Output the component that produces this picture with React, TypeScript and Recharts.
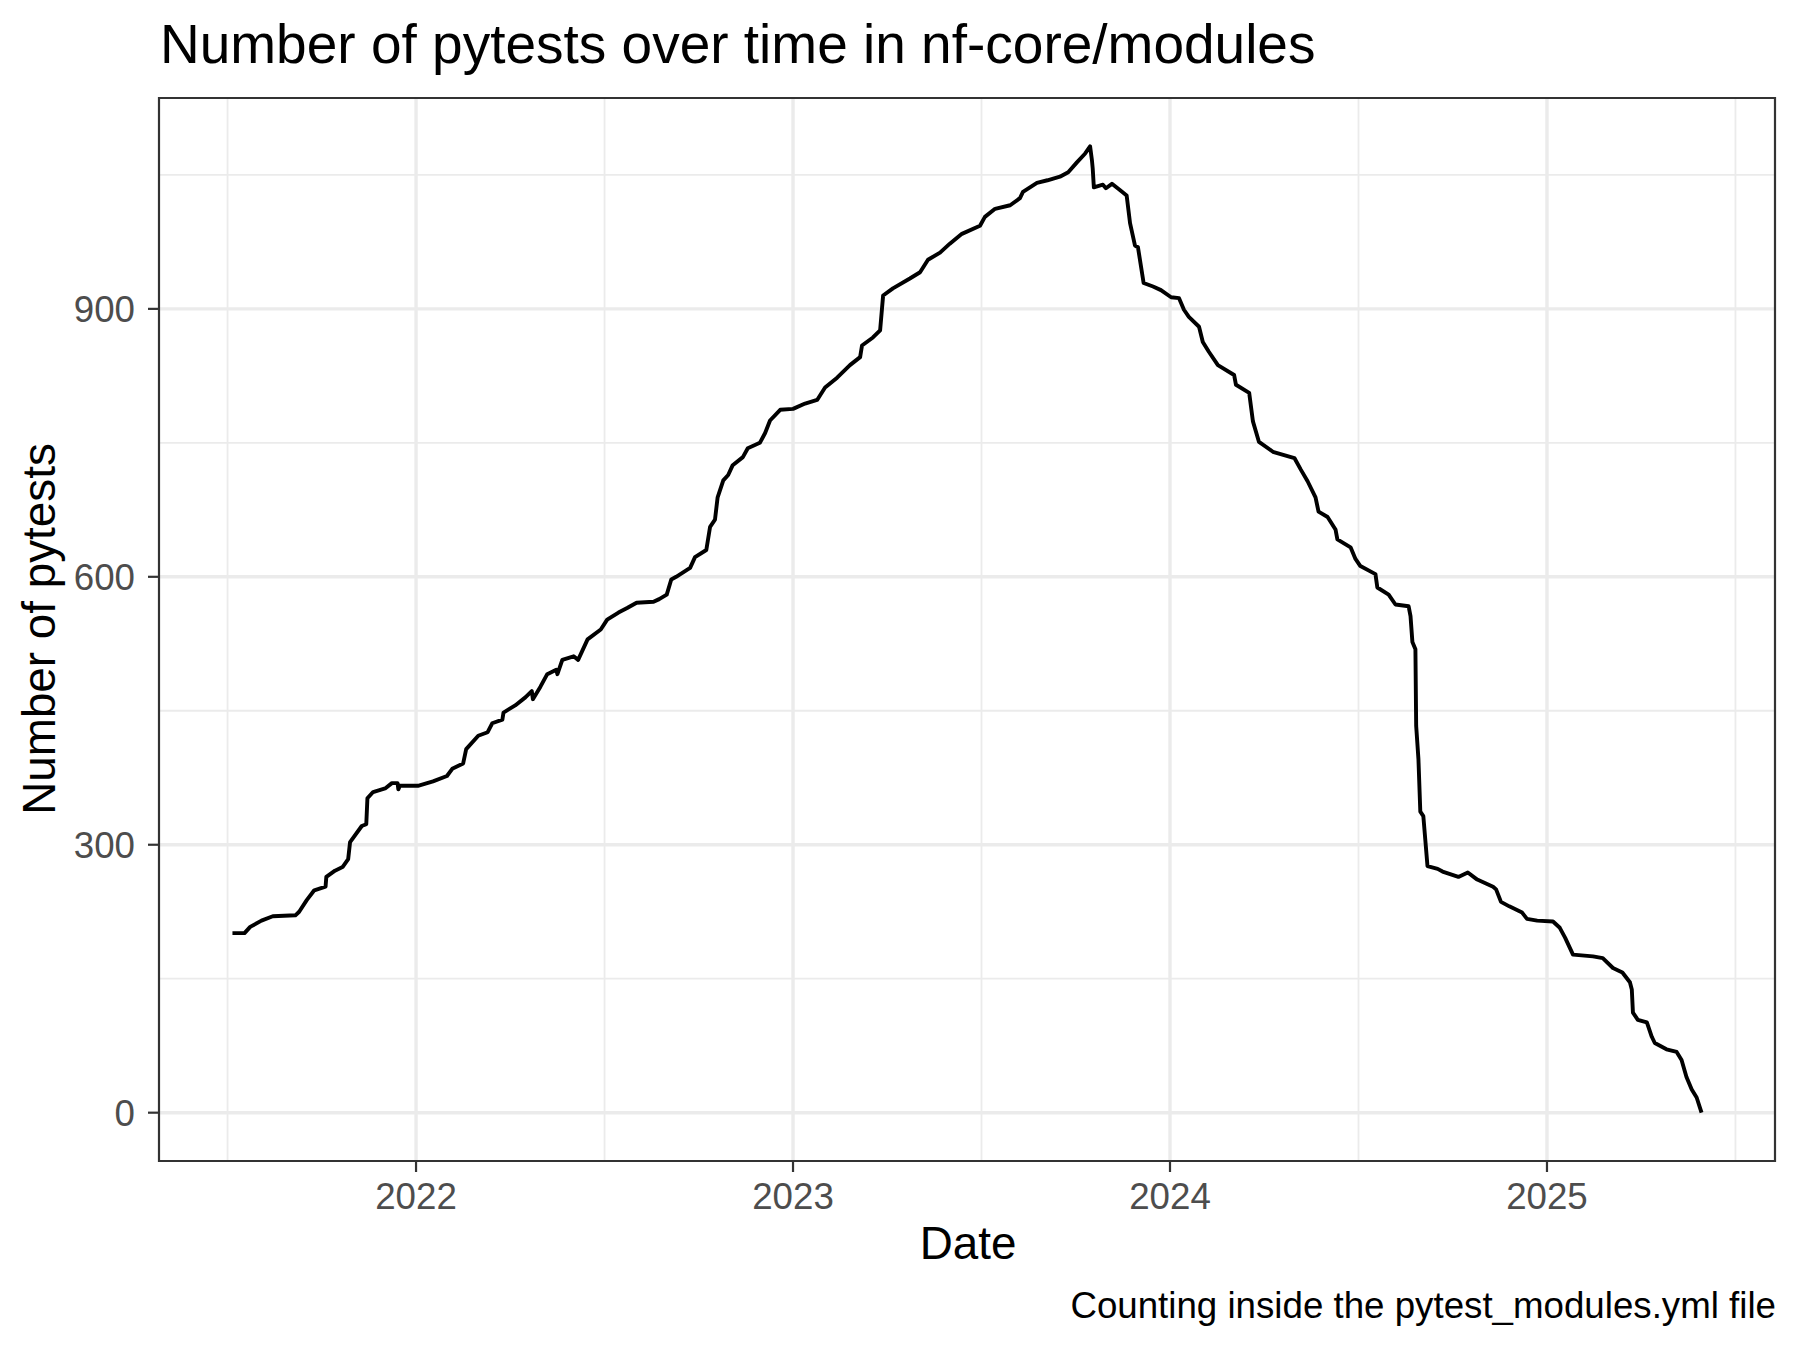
import React from "react";
import {
  LineChart,
  Line,
  XAxis,
  YAxis,
  CartesianGrid,
  ReferenceArea,
} from "recharts";

// Dates as decimal years
const dateYears: number[] = [
  2021.513, 2021.545, 2021.56, 2021.59, 2021.62, 2021.68, 2021.69, 2021.71, 2021.73, 2021.76,
  2021.762, 2021.785, 2021.805, 2021.82, 2021.825, 2021.856, 2021.868, 2021.871, 2021.886, 2021.918,
  2021.936, 2021.951, 2021.953, 2021.957, 2022.005, 2022.045, 2022.082, 2022.096, 2022.125, 2022.133,
  2022.165, 2022.19, 2022.202, 2022.229, 2022.232, 2022.263, 2022.29, 2022.307, 2022.31, 2022.33,
  2022.348, 2022.372, 2022.375, 2022.388, 2022.418, 2022.43, 2022.455, 2022.49, 2022.507, 2022.537,
  2022.56, 2022.585, 2022.63, 2022.645, 2022.665, 2022.677, 2022.69, 2022.727, 2022.74, 2022.77,
  2022.78, 2022.793, 2022.8, 2022.815, 2022.828, 2022.84, 2022.867, 2022.88, 2022.912, 2022.926,
  2022.939, 2022.966, 2023.0, 2023.032, 2023.064, 2023.085, 2023.117, 2023.151, 2023.178, 2023.183,
  2023.212, 2023.231, 2023.239, 2023.265, 2023.31, 2023.337, 2023.358, 2023.39, 2023.416, 2023.448,
  2023.496, 2023.509, 2023.536, 2023.576, 2023.602, 2023.61, 2023.647, 2023.675, 2023.708, 2023.73,
  2023.753, 2023.775, 2023.788, 2023.793, 2023.795, 2023.798, 2023.822, 2023.83, 2023.846, 2023.867,
  2023.885, 2023.894, 2023.907, 2023.915, 2023.93, 2023.955, 2023.976, 2024.003, 2024.024, 2024.037,
  2024.05, 2024.077, 2024.087, 2024.103, 2024.127, 2024.17, 2024.175, 2024.21, 2024.22, 2024.236,
  2024.273, 2024.33, 2024.347, 2024.365, 2024.386, 2024.394, 2024.418, 2024.439, 2024.444, 2024.479,
  2024.492, 2024.505, 2024.545, 2024.55, 2024.58, 2024.598, 2024.633, 2024.638, 2024.643, 2024.651,
  2024.653, 2024.659, 2024.664, 2024.672, 2024.683, 2024.71, 2024.723, 2024.765, 2024.79, 2024.815,
  2024.857, 2024.865, 2024.878, 2024.9, 2024.934, 2024.947, 2024.974, 2025.016, 2025.034, 2025.048,
  2025.069, 2025.122, 2025.148, 2025.175, 2025.2, 2025.22, 2025.225, 2025.228, 2025.241, 2025.265,
  2025.278, 2025.286, 2025.317, 2025.344, 2025.357, 2025.37, 2025.384, 2025.397, 2025.41,
];

// Number of pytests at each date
const pytestCounts: number[] = [
  201, 201, 208, 215, 220, 221, 225, 238, 249, 253,
  264, 271, 275, 284, 303, 321, 323, 352, 359, 363,
  369, 369, 362, 366, 366, 371, 377, 385, 391, 407,
  422, 426, 436, 440, 448, 456, 465, 472, 463, 477,
  491, 496, 491, 507, 511, 507, 530, 541, 552, 560,
  565, 571, 572, 575, 580, 597, 600, 610, 622, 630,
  656, 664, 689, 708, 714, 725, 734, 744, 750, 761,
  775, 787, 788, 794, 798, 812, 823, 837, 846, 859,
  868, 876, 915, 923, 934, 941, 955, 963, 973, 984,
  993, 1003, 1012, 1016, 1024, 1031, 1041, 1044, 1048, 1053,
  1064, 1074, 1082, 1066, 1057, 1036, 1039, 1035, 1040, 1033,
  1027, 996, 971, 969, 929, 925, 921, 913, 912, 899,
  891, 880, 863, 852, 837, 826, 815, 806, 774, 751,
  740, 733, 720, 707, 689, 673, 667, 653, 642, 633,
  620, 612, 603, 588, 580, 569, 567, 556, 527, 519,
  433, 396, 337, 332, 276, 273, 270, 264, 269, 261,
  253, 250, 236, 231, 224, 217, 215, 214, 207, 196,
  177, 175, 173, 162, 157, 146, 138, 112, 104, 101,
  85, 78, 71, 68, 59, 40, 26, 17, 0,
];

const xTicks: number[] = [2022, 2023, 2024, 2025];
const xMinorGrid: number[] = [2021.5, 2022.5, 2023.5, 2024.5, 2025.5];
const yTicks: number[] = [0, 300, 600, 900];
const yMinorGrid: number[] = [150, 450, 750, 1050];

const titleText = "Number of pytests over time in nf-core/modules";
const xTitle = "Date";
const yTitle = "Number of pytests";
const captionText = "Counting inside the pytest_modules.yml file";

const data = dateYears.map((d, i) => ({ date: d, count: pytestCounts[i] }));

// ggplot-style 5% expansion
const xSpan = dateYears[dateYears.length - 1] - dateYears[0];
const xDomain: [number, number] = [dateYears[0] - 0.05 * xSpan, dateYears[dateYears.length - 1] + 0.05 * xSpan];
const yMaxVal = Math.max(...pytestCounts);
const yMinVal = Math.min(...pytestCounts);
const ySpan = yMaxVal - yMinVal;
const yDomain: [number, number] = [yMinVal - 0.05 * ySpan, yMaxVal + 0.05 * ySpan];

const FONT = "'Liberation Sans', Arial, Helvetica, sans-serif";
const W = 1800;
const H = 1350;

export default function App() {
  return (
    <div style={{ position: "absolute", left: 0, top: 0, width: W, height: H, background: "#ffffff" }}>
      <LineChart
        width={W}
        height={H}
        data={data}
        margin={{ top: 98, right: 25, bottom: 129, left: 79 }}
        style={{ fontFamily: FONT }}
      >
        <CartesianGrid
          stroke="#EBEBEB"
          strokeWidth={1.8}
          horizontalValues={yMinorGrid}
          verticalValues={xMinorGrid}
        />
        <CartesianGrid
          stroke="#EBEBEB"
          strokeWidth={3.4}
          horizontalValues={yTicks}
          verticalValues={xTicks}
        />
        <XAxis
          dataKey="date"
          type="number"
          domain={xDomain}
          allowDataOverflow
          ticks={xTicks}
          tickFormatter={(v: number) => String(Math.round(v))}
          height={60}
          tickSize={11}
          tickMargin={11}
          axisLine={false}
          tickLine={{ stroke: "#333333", strokeWidth: 2.2 }}
          tick={{ fill: "#4D4D4D", fontSize: 36.7, fontFamily: FONT }}
          interval={0}
        />
        <YAxis
          type="number"
          domain={yDomain}
          allowDataOverflow
          ticks={yTicks}
          width={80}
          tickSize={11}
          tickMargin={13}
          axisLine={false}
          tickLine={{ stroke: "#333333", strokeWidth: 2.2 }}
          tick={{ fill: "#4D4D4D", fontSize: 36.7, fontFamily: FONT }}
          interval={0}
        />
        <Line
          type="linear"
          dataKey="count"
          stroke="#000000"
          strokeWidth={3.9}
          dot={false}
          activeDot={false}
          isAnimationActive={false}
          strokeLinejoin="round"
        />
        <ReferenceArea
          x1={xDomain[0]}
          x2={xDomain[1]}
          y1={yDomain[0]}
          y2={yDomain[1]}
          fill="none"
          fillOpacity={0}
          stroke="#333333"
          strokeWidth={2.2}
          ifOverflow="visible"
        />
      </LineChart>
      <svg
        width={W}
        height={H}
        style={{ position: "absolute", left: 0, top: 0, pointerEvents: "none" }}
      >
        <text x={160} y={63} fontSize={55} fontFamily={FONT} fill="#000000">
          {titleText}
        </text>
        <text x={968} y={1259} fontSize={45.8} fontFamily={FONT} fill="#000000" textAnchor="middle">
          {xTitle}
        </text>
        <text
          transform="translate(55,629) rotate(-90)"
          fontSize={45.8}
          fontFamily={FONT}
          fill="#000000"
          textAnchor="middle"
        >
          {yTitle}
        </text>
        <text x={1776} y={1318} fontSize={36.7} fontFamily={FONT} fill="#000000" textAnchor="end">
          {captionText}
        </text>
      </svg>
    </div>
  );
}
